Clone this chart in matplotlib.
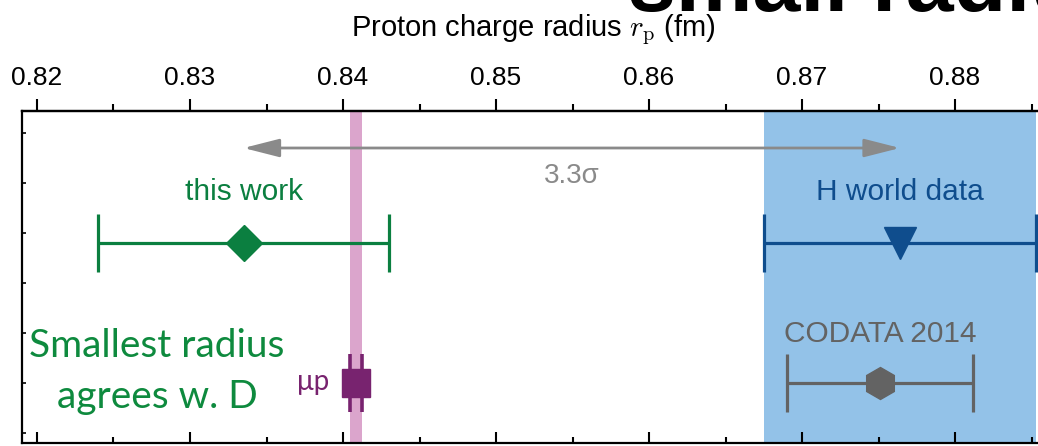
import numpy as np
import matplotlib.pyplot as plt

plt.rcParams['font.family'] = ['Liberation Sans', 'DejaVu Sans']
plt.rcParams['mathtext.fontset'] = 'cm'

# measurements of the proton radius (fm)
names = ['this work', 'H world data', 'CODATA 2014', 'μp']
radius = [0.8335, 0.8764, 0.8751, 0.84087]
sigma = [0.0095, 0.0089, 0.0061, 0.00039]
rows = [4.0, 4.0, 1.2, 1.2]
markers = ['D', 'v', 'h', 's']
msizes = [18, 23, 23, 19.5]
colors = ['#0b7f40', '#0f4d8d', '#636363', '#78236f']
discrepancy = '3.3σ'
xticks = [0.82, 0.83, 0.84, 0.85, 0.86, 0.87, 0.88]

gray = '#8a8a8a'

fig = plt.figure(figsize=(10.38, 4.46), dpi=100)
ax = fig.add_axes([22 / 1038, 3 / 446, 1023 / 1038, 332 / 446])
ax.set_xlim(0.81902, 0.88588)
ax.set_ylim(0, 6.64)

# bands for muonic and H world value
ax.axvspan(radius[3] - sigma[3], radius[3] + sigma[3], color='#dba5cc', lw=0, zorder=0)
ax.axvspan(radius[1] - sigma[1], radius[1] + sigma[1], color='#93c2e8', lw=0, zorder=0)

for i in range(4):
    lw = 2.6 if i == 3 else 2.3
    ax.errorbar(radius[i], rows[i], xerr=sigma[i], fmt=markers[i], ms=msizes[i],
                color=colors[i], mec=colors[i], lw=lw, capsize=21, capthick=lw, zorder=3)

# labels above the points
ax.text(radius[0], 4.86, names[0], ha='center', va='baseline', fontsize=21.5, color=colors[0])
ax.text(radius[1], 4.86, names[1], ha='center', va='baseline', fontsize=21.5, color=colors[1])
ax.text(radius[2], 2.02, names[2], ha='center', va='baseline', fontsize=21.5, color=colors[2])
ax.annotate(names[3], xy=(radius[3], rows[3]), xytext=(-19.5, -5), textcoords='offset points',
            ha='right', va='baseline', fontsize=20, color=colors[3], family=['Lato', 'DejaVu Sans'])

# arrow between this work and H world data
ax.annotate('', xy=(radius[0], 5.9), xytext=(radius[1], 5.9),
            arrowprops=dict(arrowstyle='<|-|>,head_length=1.1,head_width=0.28', color=gray,
                            lw=2, shrinkA=0, shrinkB=0, mutation_scale=20))
ax.text((radius[0] + radius[1]) / 2, 5.2, discrepancy, ha='center', va='baseline',
        fontsize=20, color=gray)

ax.text(0.82784, 1.72, 'Smallest radius', ha='center', va='baseline', fontsize=28,
        color='#0e8a3e', family=['Lato', 'DejaVu Sans'])
ax.text(0.82784, 0.70, 'agrees w. D', ha='center', va='baseline', fontsize=28,
        color='#0e8a3e', family=['Lato', 'DejaVu Sans'])

# ticks: bottom inward, top outward with labels
ax.set_xticks(xticks)
ax.set_xticks(np.arange(0.825, 0.886, 0.01), minor=True)
ax.tick_params(axis='x', which='both', direction='in', bottom=True, top=False,
               labelbottom=False, width=1.5)
ax.tick_params(axis='x', which='major', length=8)
ax.tick_params(axis='x', which='minor', length=4)
ax.set_yticks(np.arange(0.2, 6.3, 1.0))
ax.tick_params(axis='y', direction='in', length=3, width=1.2, labelleft=False)
for s in ax.spines.values():
    s.set_linewidth(1.6)

sec = ax.secondary_xaxis('top')
sec.set_xticks(xticks)
sec.set_xticks(np.arange(0.825, 0.886, 0.01), minor=True)
sec.set_xticklabels(['%.2f' % t for t in xticks])
sec.tick_params(axis='x', which='both', direction='out', width=1.5, labelsize=19, pad=6)
sec.tick_params(axis='x', which='major', length=9)
sec.tick_params(axis='x', which='minor', length=5)
sec.spines['top'].set_linewidth(1.6)
sec.set_xlabel(r'Proton charge radius $r_\mathrm{p}$ (fm)', fontsize=21, labelpad=22)

# slide title, cut off at the top
fig.text(0.605, 1 - 11 / 446, 'small radius', fontsize=62, fontweight='bold',
         ha='left', va='baseline', color='black')

fig.savefig('out.png', dpi=100)
